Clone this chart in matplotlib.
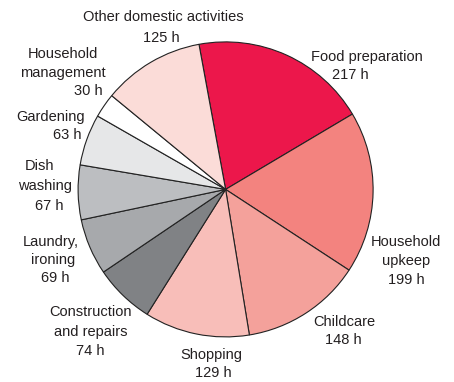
import matplotlib
matplotlib.use("Agg")
from matplotlib import pyplot as plt

# hours per activity, clockwise from the top
activities = ["Food preparation", "Household upkeep", "Childcare", "Shopping",
              "Construction and repairs", "Laundry, ironing", "Dish washing",
              "Gardening", "Household management", "Other domestic activities"]
hours = [217, 199, 148, 129, 74, 69, 67, 63, 30, 125]
colors = ["#EC174B", "#F3837F", "#F4A19B", "#F8BEB9", "#808285",
          "#A7A9AC", "#BCBEC1", "#E6E7E8", "#FFFFFF", "#FBDCD8"]

# label lines (text, x, y) in pixel coords, y from the top
label_lines = [
    ("Other domestic activities", 163, 17), ("125 h", 161, 38),
    ("Household", 63, 54), ("management", 63, 73), ("30 h", 88, 91),
    ("Food preparation", 367, 57), ("217 h", 350, 75),
    ("Gardening", 51, 117), ("63 h", 67, 135),
    ("Dish", 40, 166), ("washing", 45, 186), ("67 h", 49, 206),
    ("Laundry,", 51, 242), ("ironing", 53, 260), ("69 h", 55, 278),
    ("Construction", 91, 312), ("and repairs", 91, 332), ("74 h", 90, 351),
    ("Shopping", 211, 355), ("129 h", 213, 373),
    ("Childcare", 344, 322), ("148 h", 343, 340),
    ("Household", 406, 242), ("upkeep", 406, 261), ("199 h", 406, 280),
]

W, H = 454, 382
fig = plt.figure(figsize=(W / 100, H / 100), dpi=100)
ax = fig.add_axes([0, 0, 1, 1])

ax.pie(hours, colors=colors, startangle=100.4, counterclock=False,
       center=(225.6, H - 189.4), radius=147.5, frame=True,
       wedgeprops=dict(edgecolor="#222222", linewidth=0.8))
ax.set_xlim(0, W)
ax.set_ylim(0, H)
ax.set_aspect("equal")
ax.axis("off")

for txt, x, y in label_lines:
    ax.text(x, H - y, txt, ha="center", va="center", fontsize=10.5,
            family=["Liberation Sans", "DejaVu Sans"], color="#231F20")

fig.savefig("out.png", dpi=100)
